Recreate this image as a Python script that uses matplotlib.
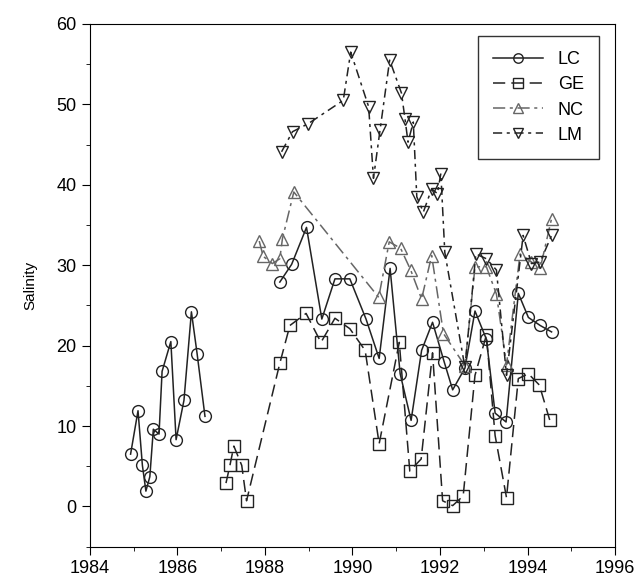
import numpy as np
import matplotlib
matplotlib.use("Agg")
import matplotlib.pyplot as plt
from matplotlib.ticker import MultipleLocator

plt.rcParams['font.family'] = ['Liberation Sans', 'DejaVu Sans']

# LC - circles, solid (gap between 1986.6 and 1988.3)
lc_year = [1984.93, 1985.10, 1985.20, 1985.28, 1985.37, 1985.45, 1985.58, 1985.65,
           1985.85, 1985.97, 1986.15, 1986.32, 1986.45, 1986.63, np.nan,
           1988.34, 1988.61, 1988.95, 1989.30, 1989.60, 1989.94, 1990.31, 1990.61,
           1990.86, 1991.09, 1991.34, 1991.58, 1991.83, 1992.10, 1992.29, 1992.57,
           1992.80, 1993.06, 1993.26, 1993.51, 1993.79, 1994.02, 1994.29, 1994.55]
lc_sal = [6.5, 11.9, 5.1, 1.9, 3.7, 9.6, 9.0, 16.8,
          20.5, 8.3, 13.2, 24.2, 19.0, 11.2, np.nan,
          27.9, 30.1, 34.7, 23.3, 28.3, 28.3, 23.3, 18.4,
          29.6, 16.5, 10.7, 19.4, 22.9, 17.9, 14.5, 17.2,
          24.3, 20.8, 11.6, 10.5, 26.5, 23.5, 22.5, 21.7]

# GE - squares
ge_year = [1987.11, 1987.20, 1987.29, 1987.47, 1987.58, 1988.34, 1988.57, 1988.94,
           1989.28, 1989.60, 1989.94, 1990.29, 1990.61, 1991.07, 1991.31, 1991.57,
           1991.83, 1992.06, 1992.29, 1992.53, 1992.80, 1993.06, 1993.26, 1993.52,
           1993.79, 1994.02, 1994.27, 1994.51]
ge_sal = [2.9, 5.1, 7.5, 5.1, 0.7, 17.8, 22.5, 24.0,
          20.4, 23.4, 22.1, 19.4, 7.8, 20.4, 4.4, 5.9,
          19.1, 0.7, 0.1, 1.3, 16.3, 21.3, 8.8, 1.1,
          15.9, 16.5, 15.1, 10.7]

# NC - up triangles
nc_year = [1987.87, 1987.96, 1988.17, 1988.34, 1988.40, 1988.66, 1990.60, 1990.84,
           1991.10, 1991.33, 1991.58, 1991.81, 1992.08, 1992.57, 1992.80, 1993.06,
           1993.29, 1993.52, 1993.83, 1994.09, 1994.29, 1994.55]
nc_sal = [33.0, 31.1, 30.2, 30.8, 33.3, 39.1, 26.0, 32.9,
          32.1, 29.4, 25.8, 31.2, 21.5, 17.5, 29.8, 29.8,
          26.4, 17.6, 31.4, 30.4, 29.6, 35.8]

# LM - down triangles
lm_year = [1988.38, 1988.63, 1988.99, 1989.79, 1989.96, 1990.37, 1990.48, 1990.63,
           1990.85, 1991.12, 1991.20, 1991.27, 1991.39, 1991.47, 1991.62, 1991.81,
           1991.94, 1992.02, 1992.11, 1992.57, 1992.82, 1993.06, 1993.29, 1993.52,
           1993.90, 1994.09, 1994.29, 1994.55]
lm_sal = [44.1, 46.6, 47.6, 50.5, 56.5, 49.7, 40.8, 46.8,
          55.5, 51.4, 48.2, 45.3, 47.8, 38.5, 36.6, 39.5,
          38.9, 41.4, 31.6, 17.3, 31.4, 30.8, 29.4, 16.3,
          33.7, 30.2, 30.4, 33.7]

fig = plt.figure(figsize=(6.42, 5.84), dpi=100)
ax = fig.add_axes([0.140, 0.064, 0.818, 0.895])

mk = dict(markersize=8.5, markerfacecolor='none', markeredgewidth=1.0)
ax.plot(lc_year, lc_sal, '-', color='#222222', lw=1.1, marker='o', label='LC', **mk)
ax.plot(ge_year, ge_sal, color='#222222', lw=1.1, dashes=(8, 4), marker='s', label='GE', **mk)
ax.plot(nc_year, nc_sal, color='#666666', lw=1.1, dashes=(8, 3, 2, 3), marker='^', label='NC', **mk)
ax.plot(lm_year, lm_sal, color='#222222', lw=1.1, dashes=(6, 3, 2, 3), marker='v', label='LM', **mk)

ax.set_xlim(1984, 1996)
ax.set_ylim(-5, 60)
ax.xaxis.set_major_locator(MultipleLocator(2))
ax.xaxis.set_minor_locator(MultipleLocator(1))
ax.yaxis.set_major_locator(MultipleLocator(10))
ax.yaxis.set_minor_locator(MultipleLocator(5))
ax.tick_params(which='major', direction='out', length=6, labelsize=13)
ax.tick_params(which='minor', direction='out', length=3)
ax.set_ylabel('Salinity', fontsize=11, labelpad=14)

leg = ax.legend(loc='upper right', bbox_to_anchor=(0.97, 0.977), fontsize=13,
                frameon=True, fancybox=False, edgecolor='black', handlelength=2.8,
                labelspacing=0.45, borderpad=0.85, borderaxespad=0, markerscale=0.8)
leg.get_frame().set_linewidth(1.0)

fig.savefig('out.png', dpi=100)
